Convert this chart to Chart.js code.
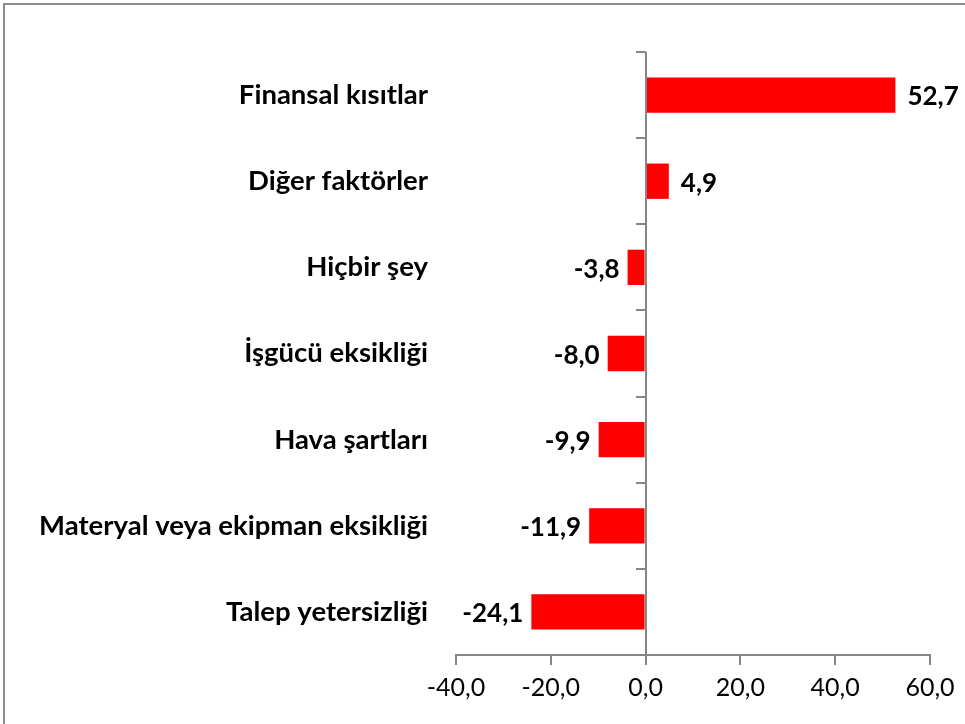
<!DOCTYPE html>
<html>
<head>
<meta charset="utf-8">
<script src="https://cdn.jsdelivr.net/npm/chart.js@4/dist/chart.umd.min.js"></script>
<style>
  html, body { margin: 0; padding: 0; background: #fff; }
  #wrap { position: relative; width: 965px; height: 724px; }
</style>
</head>
<body>
<div id="wrap"><canvas id="c" width="965" height="724"></canvas></div>
<script>
const categories = [
  "Finansal kısıtlar",
  "Diğer faktörler",
  "Hiçbir şey",
  "İşgücü eksikliği",
  "Hava şartları",
  "Materyal veya ekipman eksikliği",
  "Talep yetersizliği"
];
const values = [52.7, 4.9, -3.8, -8.0, -9.9, -11.9, -24.1];
const xTicks = [-40, -20, 0, 20, 40, 60];

const FONT = "Lato, 'Open Sans', sans-serif";
const AXIS_COLOR = '#868686';

const fmt = v => v.toFixed(1).replace('.', ',');

const framePlugin = {
  id: 'frame',
  beforeDraw(chart) {
    const ctx = chart.ctx;
    ctx.save();
    ctx.fillStyle = '#fff';
    ctx.fillRect(0, 0, chart.width, chart.height);
    ctx.strokeStyle = '#8c8c8c';
    ctx.lineWidth = 2;
    ctx.strokeRect(4, 4, chart.width + 20, chart.height + 20);
    ctx.restore();
  }
};

const zeroAxisPlugin = {
  id: 'zeroAxis',
  afterDatasetsDraw(chart) {
    const ctx = chart.ctx;
    const xs = chart.scales.x, ys = chart.scales.y;
    const x0 = Math.round(xs.getPixelForValue(0));
    const area = chart.chartArea;
    ctx.save();
    ctx.strokeStyle = AXIS_COLOR;
    ctx.lineWidth = 2;
    ctx.beginPath();
    ctx.moveTo(x0, area.top);
    ctx.lineTo(x0, area.bottom);
    for (let i = 0; i < categories.length; i++) {
      const y = Math.round(ys.getPixelForValue(i - 0.5));
      ctx.moveTo(x0 - 10, y);
      ctx.lineTo(x0, y);
    }
    ctx.stroke();

    // data labels
    ctx.fillStyle = '#000';
    ctx.font = "bold 26px " + FONT;
    ctx.textBaseline = 'middle';
    const meta = chart.getDatasetMeta(0);
    meta.data.forEach((el, i) => {
      const v = values[i];
      if (v >= 0) {
        ctx.textAlign = 'left';
        ctx.fillText(fmt(v), el.x + 12, el.y + 2);
      } else {
        ctx.textAlign = 'right';
        ctx.fillText(fmt(v), el.x - 8, el.y + 2);
      }
    });
    ctx.restore();
  }
};

new Chart(document.getElementById('c'), {
  type: 'bar',
  data: {
    labels: categories,
    datasets: [{
      data: values,
      backgroundColor: '#FF0000',
      borderWidth: 0,
      categoryPercentage: 1.0,
      barPercentage: 0.41
    }]
  },
  options: {
    indexAxis: 'y',
    responsive: false,
    animation: false,
    events: [],
    layout: { padding: { top: 52, right: 35, left: 0, bottom: 0 } },
    plugins: { legend: { display: false }, tooltip: { enabled: false } },
    scales: {
      x: {
        type: 'linear',
        min: xTicks[0],
        max: xTicks[xTicks.length - 1],
        afterBuildTicks(scale) { scale.ticks = xTicks.map(v => ({ value: v })); },
        afterFit(scale) { scale.height = 69; },
        border: { display: true, color: AXIS_COLOR, width: 2 },
        grid: { display: true, drawOnChartArea: false, drawTicks: true, tickLength: 10, color: AXIS_COLOR, lineWidth: 2 },
        ticks: {
          color: '#000',
          padding: 8,
          font: { family: FONT, size: 25 },
          callback: v => fmt(v)
        }
      },
      y: {
        afterFit(scale) { scale.width = 456; },
        border: { display: false },
        grid: { display: false, drawTicks: false },
        ticks: {
          color: '#000',
          padding: 28,
          font: { family: FONT, size: 27.5, weight: 'bold' }
        }
      }
    }
  },
  plugins: [framePlugin, zeroAxisPlugin]
});
</script>
</body>
</html>
